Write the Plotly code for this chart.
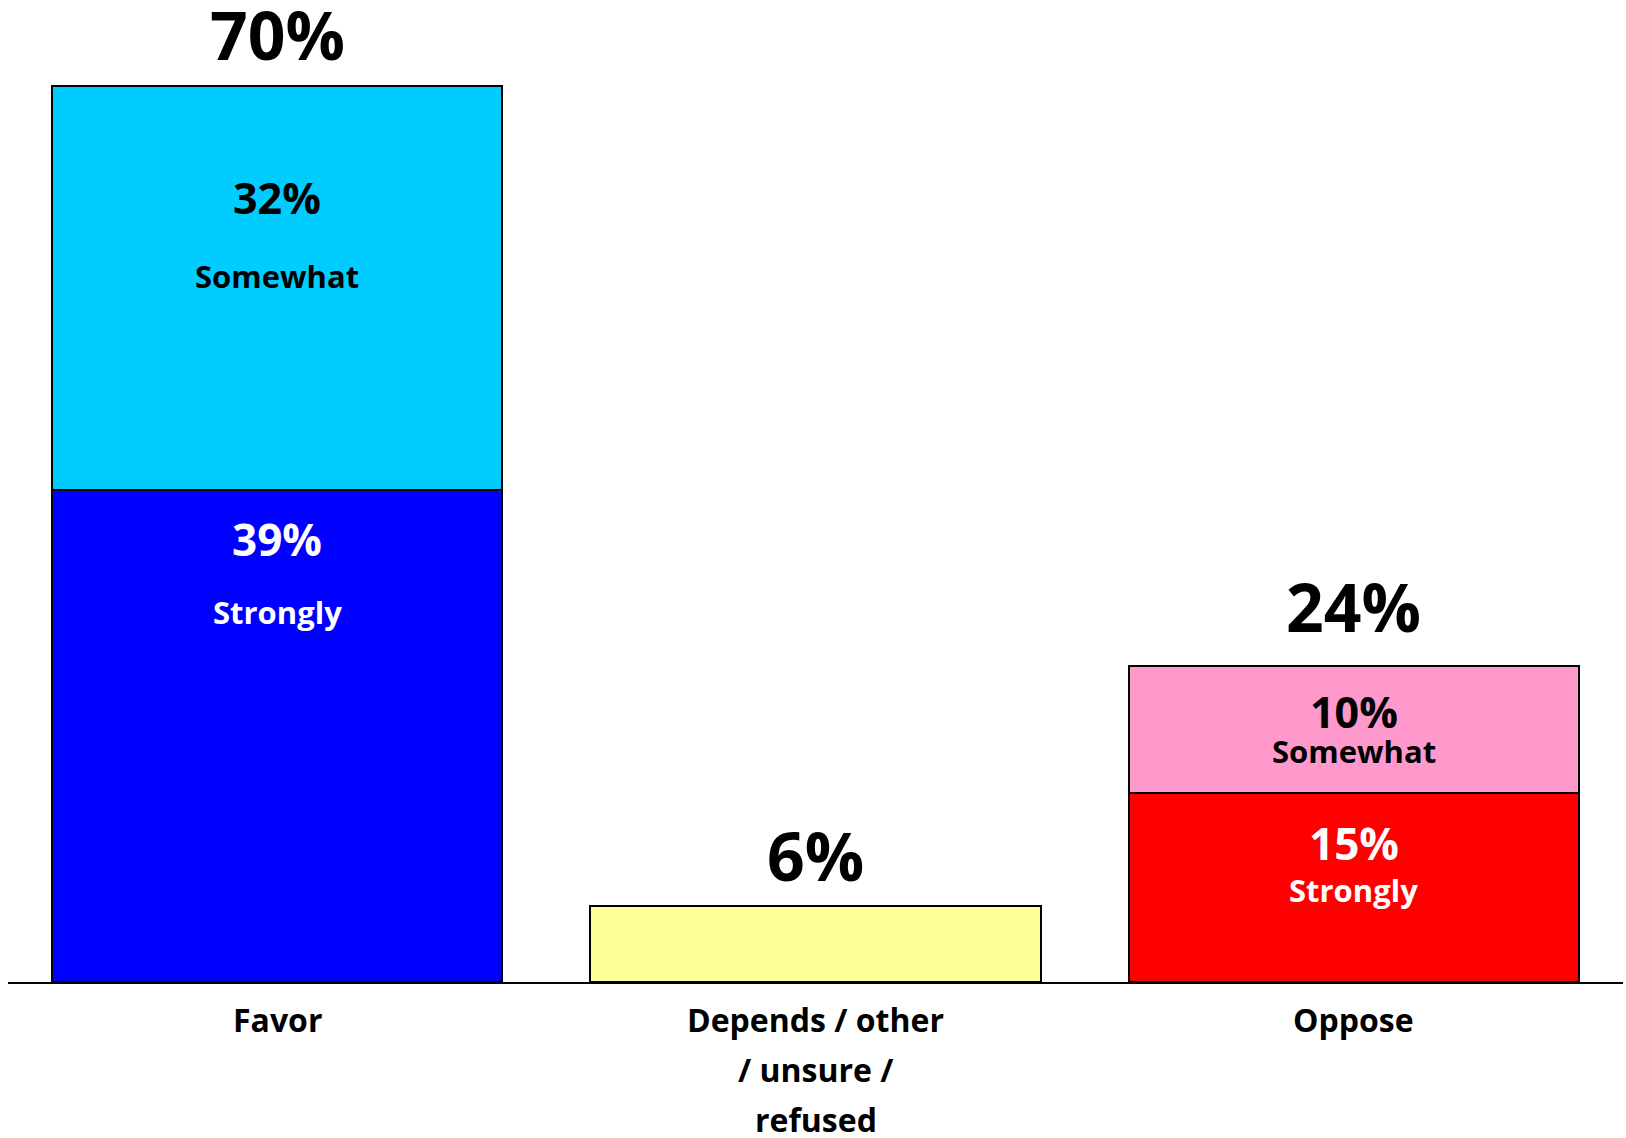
import plotly.graph_objects as go

categories = ["Favor", "Depends / other<br>/ unsure /<br>refused", "Oppose"]
strongly = [39, None, 15]
somewhat = [32, None, 10]
depends = [None, 6, None]
total_labels = ["70%", "6%", "24%"]
strongly_labels = ["39%", None, "15%"]
somewhat_labels = ["32%", None, "10%"]

FONT = "Open Sans"
strong_colors = ["#0000FF", "#FFFFFF", "#FF0000"]
some_colors = ["#00CCFF", "#FFFFFF", "#FF99CC"]
line = dict(color="black", width=2)

fig = go.Figure()
fig.add_trace(go.Bar(x=categories, y=strongly, marker=dict(color=strong_colors, line=line), hoverinfo="skip"))
fig.add_trace(go.Bar(x=categories, y=somewhat, marker=dict(color=some_colors, line=line), hoverinfo="skip"))
fig.add_trace(go.Bar(x=categories, y=depends, marker=dict(color="#FFFF99", line=line), hoverinfo="skip"))

ann = []
# total labels above bars
lift = [26, 25, 34]
for i, cat in enumerate(categories):
    tot = (strongly[i] or 0) + (somewhat[i] or 0) + (depends[i] or 0)
    ann.append(dict(x=cat, y=tot, text=total_labels[i], showarrow=False, yanchor="bottom",
                    yshift=lift[i] - 21, font=dict(family=FONT, size=66, color="black", weight="bold")))

# segment labels
num_off_strong = [-49, None, -50]
word_off_strong = [-122, None, -97]
num_off_some = [-112, None, -45]
word_off_some = [-190, None, -85]
for i, cat in enumerate(categories):
    if strongly[i] is None:
        continue
    top_s = strongly[i]
    top_w = strongly[i] + somewhat[i]
    ann.append(dict(x=cat, y=top_s, text=strongly_labels[i], showarrow=False, yanchor="middle",
                    yshift=num_off_strong[i], font=dict(family=FONT, size=44, color="white", weight="bold")))
    ann.append(dict(x=cat, y=top_s, text="Strongly", showarrow=False, yanchor="middle",
                    yshift=word_off_strong[i], font=dict(family=FONT, size=31, color="white", weight="bold")))
    ann.append(dict(x=cat, y=top_w, text=somewhat_labels[i], showarrow=False, yanchor="middle",
                    yshift=num_off_some[i], font=dict(family=FONT, size=43, color="black", weight="bold")))
    ann.append(dict(x=cat, y=top_w, text="Somewhat", showarrow=False, yanchor="middle",
                    yshift=word_off_some[i], font=dict(family=FONT, size=31, color="black", weight="bold")))

# category labels below axis (line spacing wider than Plotly's default tick labels)
for cat in categories:
    for k, part in enumerate(cat.split("<br>")):
        ann.append(dict(x=cat, y=0, text=part, showarrow=False, yanchor="middle",
                        yshift=-37 - 50 * k, font=dict(family=FONT, size=32, color="black", weight="bold")))

fig.update_layout(
    barmode="stack",
    bargap=0.164,
    showlegend=False,
    width=1626, height=1138,
    margin=dict(l=8, r=3, t=0, b=156),
    plot_bgcolor="white", paper_bgcolor="white",
    annotations=ann,
    xaxis=dict(showline=True, linecolor="black", linewidth=2, ticks="", showgrid=False,
               showticklabels=False),
    yaxis=dict(range=[0, 77.8], visible=False, showgrid=False, zeroline=False),
)
fig.write_html("out.html", config={"displayModeBar": False},
               post_script="document.body.style.margin='0px';")
